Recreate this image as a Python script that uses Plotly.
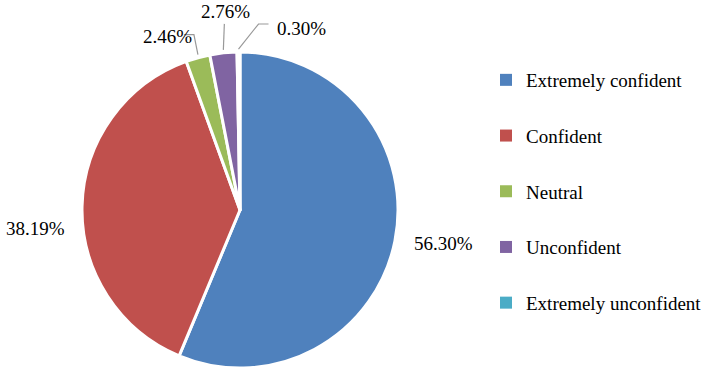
import math
import plotly.graph_objects as go

categories = ["Extremely confident", "Confident", "Neutral", "Unconfident", "Extremely unconfident"]
values = [56.30, 38.19, 2.46, 2.76, 0.30]
value_labels = ["56.30%", "38.19%", "2.46%", "2.76%", "0.30%"]
colors = ["#4F81BD", "#C0504D", "#9BBB59", "#8064A2", "#4BACC6"]

W, H = 702, 377
CX, CY, R = 240, 210, 158  # pie centre and radius in pixels (layout)
FONT = "Liberation Serif, Times New Roman, serif"

# label offsets (px) from each slice's mid-edge point, and leader-line vertices
label_offsets = [(49, 2), (-47, 22), (-30, -21), (2, -41), (63, -24)]
leaders = [None, None, [(-4, -23), (-14, -23)], [(1, -29)], [(20, -28), (30, -28)]]


def px2paper(x, y):
    return x / W, 1 - y / H


fig = go.Figure()
fig.add_trace(go.Pie(
    labels=categories, values=values, sort=False, direction="clockwise", rotation=0,
    marker=dict(colors=colors, line=dict(color="white", width=3)),
    textinfo="none", hoverinfo="label+percent", showlegend=False,
    domain=dict(x=[(CX - R) / W, (CX + R) / W], y=[1 - (CY + R) / H, 1 - (CY - R) / H]),
))

# legend entries
for cat, col in zip(categories, colors):
    fig.add_trace(go.Scatter(
        x=[None], y=[None], mode="markers", name=cat, legendgroup=cat,
        marker=dict(symbol="square", size=9, color=col),
    ))

total = sum(values)
cum = 0
annotations = []
shapes = []
for v, lab, off, lead in zip(values, value_labels, label_offsets, leaders):
    mid = (cum + v / 2) / total * 2 * math.pi
    cum += v
    ex = CX + R * math.sin(mid)
    ey = CY - R * math.cos(mid)
    lx, ly = ex + off[0], ey + off[1]
    px, py = px2paper(lx, ly)
    annotations.append(dict(x=px, y=py, xref="paper", yref="paper", text=lab,
                            showarrow=False, font=dict(family=FONT, size=19, color="black"),
                            xanchor="center", yanchor="middle"))
    if lead:
        pts = [(ex, ey - 3)] + [(ex + dx, ey + dy) for dx, dy in lead]
        path = ""
        for i, (x, y) in enumerate(pts):
            a, b = px2paper(x, y)
            path += ("M" if i == 0 else " L") + f" {a:.5f} {b:.5f}"
        shapes.append(dict(type="path", path=path, xref="paper", yref="paper",
                           line=dict(color="#999999", width=1.2)))

fig.update_layout(
    width=W, height=H, margin=dict(l=0, r=0, t=0, b=0, autoexpand=False),
    paper_bgcolor="white", plot_bgcolor="white",
    xaxis=dict(visible=False), yaxis=dict(visible=False),
    annotations=annotations, shapes=shapes,
    legend=dict(x=486 / W, y=1 - 61 / H, xanchor="left", yanchor="top",
                font=dict(family=FONT, size=19, color="black"),
                tracegroupgap=28, itemsizing="constant", bgcolor="rgba(0,0,0,0)"),
    showlegend=True,
)

fig.write_html("out.html", config={"displayModeBar": False},
               post_script="document.body.style.margin='0';")
